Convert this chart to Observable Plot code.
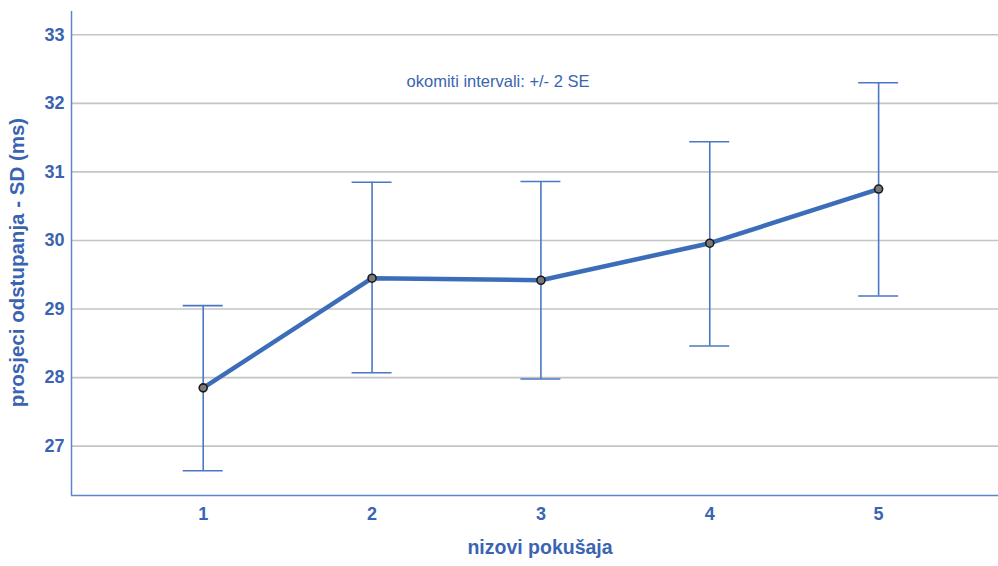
<!DOCTYPE html>
<html>
<head>
<meta charset="utf-8">
<script src="https://cdn.jsdelivr.net/npm/d3@7"></script>
<script src="https://cdn.jsdelivr.net/npm/@observablehq/plot@0.6"></script>
<style>
  html, body { margin: 0; padding: 0; background: #fff; }
  #chart { width: 998px; height: 566px; }
</style>
</head>
<body>
<div id="chart"></div>
<script>
const levels = [1, 2, 3, 4, 5];
const means = [27.85, 29.45, 29.42, 29.96, 30.75];
const lower = [26.64, 28.07, 27.98, 28.46, 29.19];
const upper = [29.05, 30.85, 30.86, 31.44, 32.30];
const yTicks = [27, 28, 29, 30, 31, 32, 33];
const annotation = "okomiti intervali: +/- 2 SE";
const xTitle = "nizovi pokušaja";
const yTitle = "prosjeci odstupanja - SD (ms)";

const data = levels.map((x, i) => ({x, mean: means[i], lo: lower[i], hi: upper[i]}));
const textColor = "#3a64b2";
const barColor = "#4a77c6";
const font = "Liberation Sans, Arial, sans-serif";

const capHalf = 20 / 169; // cap half-width (about 20px) in x data units
const capsLo = data.map(d => ({x1: d.x - capHalf, x2: d.x + capHalf, y: d.lo}));
const capsHi = data.map(d => ({x1: d.x - capHalf, x2: d.x + capHalf, y: d.hi}));

const chart = Plot.plot({
  width: 998,
  height: 566,
  marginLeft: 71,
  marginRight: 0,
  marginTop: 11,
  marginBottom: 71,
  style: {fontFamily: font, background: "#fff"},
  x: {domain: [0.22, 5.71]},
  y: {domain: [26.28, 33.34]},
  marks: [
    Plot.gridY(yTicks, {stroke: "#c4c4c4", strokeOpacity: 1, strokeWidth: 1.6}),
    Plot.ruleX([0.22], {stroke: "#5b85cc", strokeWidth: 1.5}),
    Plot.ruleY([26.28], {stroke: "#5b85cc", strokeWidth: 1.5}),
    Plot.axisY(yTicks, {tickSize: 0, tickPadding: 7, tickFormat: "d", fontSize: 18, fontWeight: "bold", fill: textColor, label: null}),
    Plot.axisX(levels, {tickSize: 0, tickPadding: 12, tickFormat: "d", fontSize: 18, fontWeight: "bold", fill: textColor, label: null}),
    Plot.text([yTitle], {frameAnchor: "left", textAnchor: "middle", dx: -54, dy: 9, rotate: -90, fontSize: 20.5, fontWeight: "bold", fill: textColor}),
    Plot.text([xTitle], {frameAnchor: "bottom", textAnchor: "middle", dy: 58, dx: 5, fontSize: 19.5, fontWeight: "bold", fill: textColor}),
    Plot.text([annotation], {frameAnchor: "top", textAnchor: "middle", dx: -37, dy: 64, fontSize: 16.5, fill: textColor}),
    Plot.ruleX(data, {x: "x", y1: "lo", y2: "hi", stroke: barColor, strokeWidth: 1.6}),
    Plot.ruleY(capsLo, {x1: "x1", x2: "x2", y: "y", stroke: barColor, strokeWidth: 1.6}),
    Plot.ruleY(capsHi, {x1: "x1", x2: "x2", y: "y", stroke: barColor, strokeWidth: 1.6}),
    Plot.line(data, {x: "x", y: "mean", stroke: "#3c6db9", strokeWidth: 4.5, strokeLinejoin: "round"}),
    Plot.dot(data, {x: "x", y: "mean", r: 4, fill: "#7a7a7a", stroke: "#1a1a1a", strokeWidth: 1.6})
  ]
});
document.getElementById("chart").append(chart);
</script>
</body>
</html>
